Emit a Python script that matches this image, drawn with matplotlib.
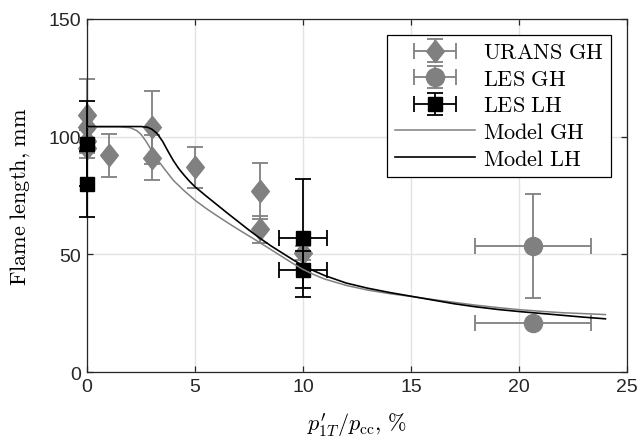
import numpy as np
import matplotlib
matplotlib.use("Agg")
import matplotlib.pyplot as plt
from matplotlib.legend_handler import HandlerErrorbar
from matplotlib.container import ErrorbarContainer

# --- URANS, gaseous hydrogen ---
urans_x = [0, 0, 0, 0, 1, 3, 3, 5, 8, 8, 10]
urans_y = [109, 104, 98, 95, 92, 104, 91, 87, 77, 60.7, 50.5]
urans_yerr = [15.5, 5, 5, 4, 9, 15.5, 9.5, 8.7, 12, 5.8, 3]

# --- LES, gaseous hydrogen ---
lesgh_x = [20.65, 20.65]
lesgh_y = [53.5, 21]
lesgh_xerr = [2.7, 2.7]
lesgh_yerr = [22, 0]

# --- LES, liquid hydrogen ---
leslh_x = [0, 0, 10, 10]
leslh_y = [97, 80, 57, 43.5]
leslh_xerr = [0, 0, 1.1, 1.1]
leslh_yerr = [18, 14, 25, 8]

# --- model curves ---
model_gh_x = [0, 1.5, 2.0, 2.3, 2.5, 2.75, 3.0, 3.25, 3.5, 4.0, 4.5, 5.0, 5.5,
              6.0, 6.5, 7.0, 7.5, 8.0, 8.5, 9.0, 9.5, 10.0, 10.5, 11.0, 12.0,
              13.0, 14.0, 15.0, 16.0, 17.0, 18.0, 19.0, 20.0, 21.0, 22.0,
              23.0, 24.0]
model_gh_y = [104.2, 104.2, 103.8, 102.6, 101.0, 97.8, 94.0, 90.4, 87.3, 81.4,
              77.0, 73.0, 69.6, 66.5, 63.5, 60.6, 57.8, 55.0, 52.1, 49.2,
              46.3, 43.6, 41.4, 39.5, 36.8, 34.8, 33.3, 32.1, 30.8, 29.6,
              28.4, 27.4, 26.5, 25.8, 25.2, 24.8, 24.4]

model_lh_x = [0, 2.5, 2.8, 3.0, 3.25, 3.5, 3.75, 4.0, 4.25, 4.5, 4.75, 5.0,
              5.5, 6.0, 6.5, 7.0, 7.5, 8.0, 8.5, 9.0, 9.5, 10.0, 10.5, 11.0,
              12.0, 13.0, 14.0, 15.0, 16.0, 17.0, 18.0, 19.0, 20.0, 21.0,
              22.0, 23.0, 24.0]
model_lh_y = [104.3, 104.3, 104.0, 103.2, 101.3, 98.0, 93.8, 89.8, 86.4,
              83.6, 81.0, 78.7, 74.9, 71.2, 67.5, 63.9, 60.3, 56.9, 53.7,
              50.8, 47.9, 45.2, 43.0, 41.0, 37.8, 35.6, 33.8, 32.2, 30.6,
              29.0, 27.7, 26.6, 25.7, 24.9, 24.1, 23.3, 22.6]

x_ticks = [0, 5, 10, 15, 20, 25]
y_ticks = [0, 50, 100, 150]

plt.rcParams["mathtext.fontset"] = "cm"
plt.rcParams["font.family"] = ["Liberation Sans", "DejaVu Sans"]

GRAY = "#808080"
AX_COL = "#262626"

fig = plt.figure(figsize=(6.44, 4.39), dpi=100)
ax = fig.add_axes([87 / 644, 1 - 373 / 439, 540 / 644, 353 / 439])

# slightly elongated diamond
diamond = [(0, 1), (0.8, 0), (0, -1), (-0.8, 0), (0, 1)]

err_kw = dict(linestyle="none", elinewidth=1.3, capsize=6, capthick=1.3,
              clip_on=False)

e1 = ax.errorbar(urans_x, urans_y, yerr=urans_yerr,
                 xerr=np.zeros(len(urans_x)), marker=diamond, markersize=16,
                 color=GRAY, ecolor=GRAY, zorder=2, **err_kw)

e2 = ax.errorbar(lesgh_x, lesgh_y, yerr=lesgh_yerr, xerr=lesgh_xerr,
                 marker="o", markersize=13, color=GRAY, ecolor=GRAY,
                 zorder=3, **err_kw)

e3 = ax.errorbar(leslh_x, leslh_y, yerr=leslh_yerr, xerr=leslh_xerr,
                 marker="s", markersize=9.5, color="black", ecolor="black",
                 zorder=4, **err_kw)

l1, = ax.plot(model_gh_x, model_gh_y, color=GRAY, linewidth=1.1, zorder=5)
l2, = ax.plot(model_lh_x, model_lh_y, color="black", linewidth=1.2, zorder=6)

ax.set_xlim(0, 25)
ax.set_ylim(0, 150)
ax.set_xticks(x_ticks)
ax.set_yticks(y_ticks)
ax.grid(True, color="#e3e3e3", linewidth=1.0, zorder=0)
ax.set_axisbelow(True)
ax.tick_params(direction="in", top=True, right=True, length=4,
               width=0.9, color=AX_COL, labelcolor=AX_COL, labelsize=14,
               pad=4)
for s in ax.spines.values():
    s.set_color(AX_COL)
    s.set_linewidth(0.9)

ax.set_xlabel(r"$p_{1T}^{\prime}/p_{\mathrm{cc}}{,}\ \%$", fontsize=16,
              va="center")
ax.xaxis.set_label_coords(0.5, -0.147)
ax.set_ylabel(r"$\mathrm{Flame\ length{,}\ mm}$", fontsize=16, va="center")
ax.yaxis.set_label_coords(-0.124, 0.5)

handles = [e1, e2, e3, l1, l2]
labels = [r"$\mathrm{URANS\ GH}$", r"$\mathrm{LES\ GH}$", r"$\mathrm{LES\ LH}$",
          r"$\mathrm{Model\ GH}$", r"$\mathrm{Model\ LH}$"]
leg = ax.legend(handles, labels, loc="upper right", fontsize=16,
                handlelength=3.6, handletextpad=0.35, labelspacing=0.25,
                borderpad=0.35, borderaxespad=0.7, fancybox=False,
                framealpha=1, edgecolor="black",
                handler_map={ErrorbarContainer: HandlerErrorbar(xerr_size=0.95,
                                                               yerr_size=0.5)})
leg.get_frame().set_linewidth(0.9)
leg.set_zorder(10)

fig.savefig("out.png", dpi=100)
